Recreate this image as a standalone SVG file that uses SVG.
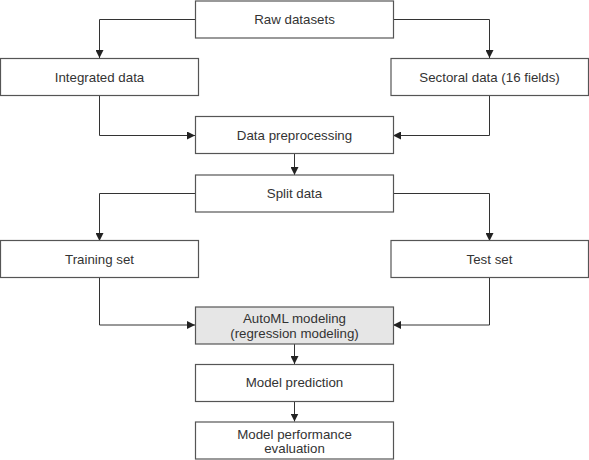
<svg xmlns="http://www.w3.org/2000/svg" width="589" height="460" viewBox="0 0 589 460">
<defs>
<marker id="ah" markerWidth="8" markerHeight="8" refX="8" refY="4" orient="auto" markerUnits="userSpaceOnUse">
<path d="M0,0 L8,4 L0,8 Z" fill="#222"/>
</marker>
<style>
.box{fill:#fff;stroke:#555;stroke-width:1.2}
.gray{fill:#e6e6e6}
.t{font-family:"Liberation Sans",Arial,sans-serif;font-size:13.3px;fill:#333;text-anchor:middle}
.c{fill:none;stroke:#333;stroke-width:1;marker-end:url(#ah)}
</style>
</defs>
<rect width="589" height="460" fill="#fff"/>
<g id="connectors">
<path class="c" d="M195,19.5 H99.5 V58"/>
<path class="c" d="M393,19.5 H489.5 V58"/>
<path class="c" d="M99.5,95.5 V135.5 H195"/>
<path class="c" d="M489.5,95.5 V135.5 H393"/>
<path class="c" d="M294.5,153.5 V175"/>
<path class="c" d="M195,193.5 H99.5 V241"/>
<path class="c" d="M393,193.5 H489.5 V241"/>
<path class="c" d="M99.5,277.5 V325 H195"/>
<path class="c" d="M489.5,277.5 V325 H393"/>
<path class="c" d="M294.5,344 V364"/>
<path class="c" d="M294.5,401.5 V421.5"/>
</g>
<g id="raw"><rect class="box" x="195.5" y="1" width="198" height="37"/><text class="t" x="294.5" y="24">Raw datasets</text></g>
<g id="integrated"><rect class="box" x="0.5" y="58.5" width="198" height="37"/><text class="t" x="99.5" y="81.5">Integrated data</text></g>
<g id="sectoral"><rect class="box" x="391" y="58.5" width="197.5" height="37"/><text class="t" x="489.5" y="81.5">Sectoral data (16 fields)</text></g>
<g id="preprocessing"><rect class="box" x="195.5" y="116.5" width="198" height="37"/><text class="t" x="294.5" y="139.7">Data preprocessing</text></g>
<g id="split"><rect class="box" x="195.5" y="175" width="198" height="37"/><text class="t" x="294.5" y="198">Split data</text></g>
<g id="training"><rect class="box" x="0.5" y="240.5" width="198" height="37"/><text class="t" x="99.5" y="263.5">Training set</text></g>
<g id="test"><rect class="box" x="391" y="240.5" width="197.5" height="37"/><text class="t" x="489.5" y="263.5">Test set</text></g>
<g id="automl"><rect class="box gray" x="195.5" y="307" width="198" height="37"/><text class="t" x="294.5" y="322.5">AutoML modeling</text><text class="t" x="294.5" y="337.5">(regression modeling)</text></g>
<g id="prediction"><rect class="box" x="195.5" y="364.5" width="198" height="37"/><text class="t" x="294.5" y="386.5">Model prediction</text></g>
<g id="evaluation"><rect class="box" x="195.5" y="422" width="198" height="37"/><text class="t" x="294.5" y="439">Model performance</text><text class="t" x="294.5" y="452.5">evaluation</text></g>
</svg>
